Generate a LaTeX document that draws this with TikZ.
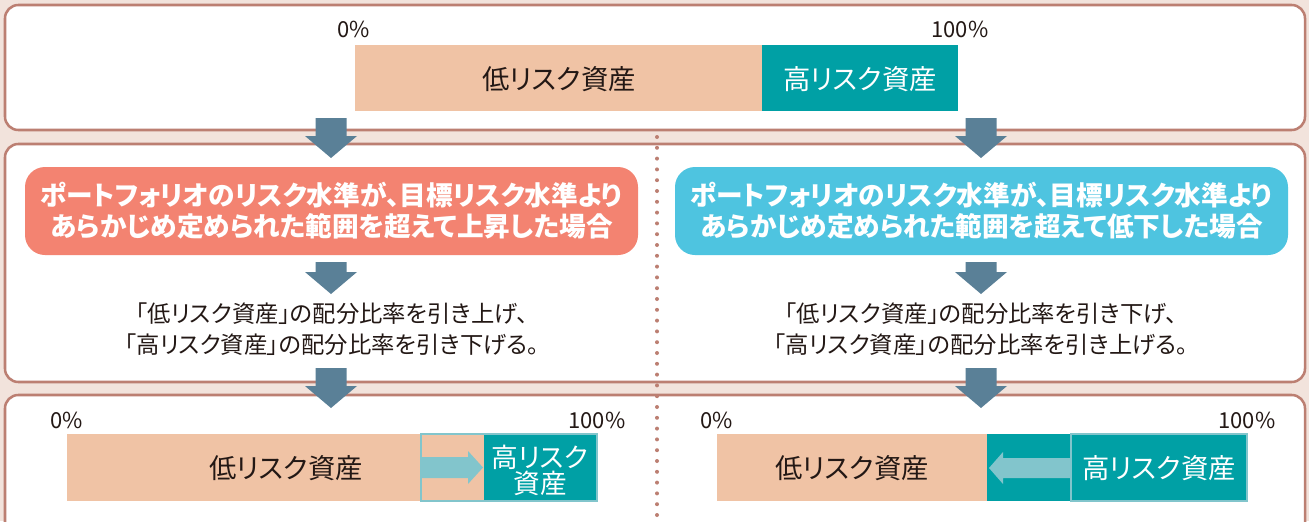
\documentclass[tikz,border=0pt]{standalone}
\usepackage{fontspec}
\setmainfont{Noto Sans CJK JP}[RawFeature={+palt}]
\usetikzlibrary{positioning}
\usepackage{xcolor}

\definecolor{bgbeige}{HTML}{F2E3DC}
\definecolor{framebrown}{HTML}{BC7F72}
\definecolor{peach}{HTML}{F0C3A5}
\definecolor{riskteal}{HTML}{00A0A5}
\definecolor{lightteal}{HTML}{82C5CC}
\definecolor{arrowblue}{HTML}{5A8097}
\definecolor{salmon}{HTML}{F38371}
\definecolor{skyblue}{HTML}{4EC4E0}
\definecolor{inkgray}{HTML}{231815}

\tikzset{
	frame/.style={draw=framebrown, line width=1.9pt, fill=white, rounded corners=10pt},
	casebox/.style={rounded corners=15pt, minimum width=459.75pt, minimum height=66pt, text=white, align=center, font=\bfseries\fontsize{20pt}{23.25pt}\selectfont},
	steptext/.style={align=center, text=inkgray, font=\fontsize{17.5pt}{23.25pt}\selectfont},
	barlabel/.style={align=center, text=inkgray, font=\fontsize{20.5pt}{20pt}\selectfont},
	pct/.style={text=inkgray, font=\fontsize{16.5pt}{18pt}\selectfont},
	outline/.style={draw=lightteal, line width=1.8pt}
}

\begin{document}
\begin{tikzpicture}[x=0.75pt, y=-0.75pt]
		\clip (0,0) rectangle (1309,521);
		\fill[bgbeige] (0,0) rectangle (1309,521);

		% frames
		\draw[frame] (5,5) rectangle (1305,130);
		\draw[frame] (5,144) rectangle (1305,382);
		\draw[frame] (5,395) rectangle (1305,570);

		% split line
		\draw[framebrown, line width=3pt, line cap=round, dash pattern=on 0pt off 8.1pt] (657,137) -- (657,521);

		% top bar
		\fill[peach] (355,45) rectangle (762,111);
		\fill[riskteal] (762,45) rectangle (958,111);
		\draw (559,79) node[barlabel] (lowtop) {低リスク資産}
		(860,79) node[barlabel, text=white] (hightop) {高リスク資産}
		(354,29) node[pct] (zerotop) {0\%}
		(960,29) node[pct] (fulltop) {100\%};

		% cases
		\node[casebox, fill=salmon] (risecase) at (331.5,211) {ポートフォリオのリスク水準が、目標リスク水準より\\あらかじめ定められた範囲を超えて上昇した場合};
		\node[casebox, fill=skyblue] (fallcase) at (981.5,211) {ポートフォリオのリスク水準が、目標リスク水準より\\あらかじめ定められた範囲を超えて低下した場合};

		\node[steptext] (risestep) at (332,329) {「低リスク資産」の配分比率を引き上げ、\\「高リスク資産」の配分比率を引き下げる。};
		\node[steptext] (fallstep) at (981,329) {「低リスク資産」の配分比率を引き下げ、\\「高リスク資産」の配分比率を引き上げる。};

		% down arrows
		\foreach \ax in {331,981}
		\foreach \ay/\at in {118/158, 262/294, 368/408}
		\fill[arrowblue] (\ax-15.5,\ay) -- (\ax+15.5,\ay) -- (\ax+15.5,\at-22) -- (\ax+26,\at-22)
		-- (\ax,\at) -- (\ax-26,\at-22) -- (\ax-15.5,\at-22) -- cycle;

		% bottom left bar
		\fill[peach] (67,434) rectangle (484,501);
		\fill[riskteal] (484,434) rectangle (597,501);
		\fill[lightteal] (421,457) -- (468,457) -- (468,451) -- (483,467.5) -- (468,484) -- (468,478) -- (421,478) -- cycle;
		\draw[outline] (421,434) rectangle (597,501);
		\draw (286,468) node[barlabel] (lowrise) {低リスク資産}
		(540,470) node[barlabel, text=white, font=\fontsize{20pt}{19.5pt}\selectfont] (highrise) {高リスク\\資産}
		(67,420) node[pct] (zerorise) {0\%}
		(597,420) node[pct] (fullrise) {100\%};

		% bottom right bar
		\fill[peach] (717,434) rectangle (987,501);
		\fill[riskteal] (987,434) rectangle (1247,501);
		\fill[lightteal] (1071,458) -- (1003,458) -- (1003,452) -- (989,468) -- (1003,484) -- (1003,478) -- (1071,478) -- cycle;
		\draw[outline] (1071,434) rectangle (1247,501);
		\draw (852,468) node[barlabel] (lowfall) {低リスク資産}
		(1159,468) node[barlabel, text=white] (highfall) {高リスク資産}
		(717,420) node[pct] (zerofall) {0\%}
		(1247,420) node[pct] (fullfall) {100\%};
	\end{tikzpicture}
\end{document}
